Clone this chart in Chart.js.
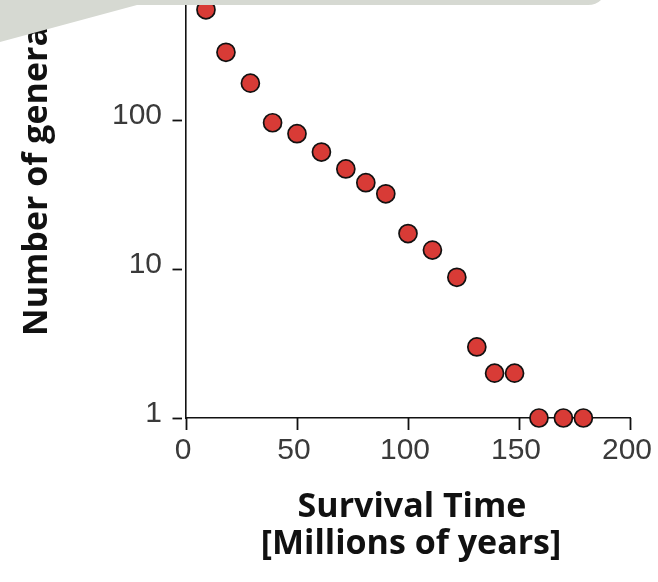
<!DOCTYPE html>
<html><head><meta charset="utf-8">
<script src="https://cdn.jsdelivr.net/npm/chart.js@4"></script>
<style>html,body{margin:0;padding:0;background:#fff;overflow:hidden}</style>
</head><body>
<canvas id="c" width="658" height="582" style="display:block;width:658px;height:582px"></canvas>
<script>
const survivalTime = [9, 18, 29, 39, 50, 61, 72, 81, 90, 100, 111, 122, 131, 139, 148, 159, 170, 179];
const numberOfGenera = [550, 285, 177, 96, 81, 61, 47, 38, 32, 17.3, 13.4, 8.8, 3, 2, 2, 1, 1, 1];
const xTickValues = [0, 50, 100, 150, 200];
const yTickValues = [1, 10, 100];
const xTitle = ['Survival Time', '[Millions of years]'];
const yTitle = 'Number of genera';

const points = survivalTime.map((x, i) => ({ x: x, y: numberOfGenera[i] }));
const tickFont = { family: '"Liberation Sans", Arial, sans-serif', size: 30 };

const decorPlugin = {
  id: 'decor',
  afterDraw(chart) {
    const ctx = chart.ctx;
    const xs = chart.scales.x, ys = chart.scales.y;
    const ca = chart.chartArea;
    ctx.save();
    ctx.strokeStyle = '#111';
    ctx.lineWidth = 1.8;
    // y tick marks (outside, small gap from axis)
    yTickValues.forEach(v => {
      const y = Math.round(ys.getPixelForValue(v)) + 0.5;
      ctx.beginPath();
      ctx.moveTo(ca.left - 13.5, y);
      ctx.lineTo(ca.left - 4, y);
      ctx.stroke();
    });
    // x tick marks (outside, downward)
    xTickValues.forEach(v => {
      const x = Math.round(xs.getPixelForValue(v)) + 0.5;
      ctx.beginPath();
      ctx.moveTo(x, ca.bottom);
      ctx.lineTo(x, ca.bottom + 12);
      ctx.stroke();
    });
    // axis titles
    ctx.fillStyle = '#111';
    ctx.font = 'bold 34px "Open Sans"';
    ctx.textAlign = 'center';
    ctx.textBaseline = 'alphabetic';
    ctx.fillText(xTitle[0], 412, 517);
    ctx.fillText(xTitle[1], 411, 554);
    ctx.save();
    ctx.translate(47, 181);
    ctx.rotate(-Math.PI / 2);
    ctx.fillText(yTitle, 0, 0);
    ctx.restore();
    // slide decoration band on top
    ctx.fillStyle = '#d6d9d2';
    ctx.beginPath();
    ctx.moveTo(0, 0);
    ctx.lineTo(601, 0);
    ctx.quadraticCurveTo(596, 5, 588, 5);
    ctx.lineTo(137, 5);
    ctx.lineTo(0, 42);
    ctx.closePath();
    ctx.fill();
    ctx.restore();
  }
};

new Chart(document.getElementById('c'), {
  type: 'scatter',
  data: {
    datasets: [{
      data: points,
      backgroundColor: '#d83b36',
      borderColor: '#111',
      borderWidth: 1.7,
      pointRadius: 9,
      pointHoverRadius: 9,
      clip: false
    }]
  },
  options: {
    responsive: false,
    animation: false,
    devicePixelRatio: 1,
    layout: { autoPadding: false, padding: { left: 0, right: 28, top: 0, bottom: 0 } },
    plugins: { legend: { display: false }, tooltip: { enabled: false } },
    scales: {
      x: {
        type: 'linear',
        min: 0,
        max: 200,
        afterBuildTicks: s => { s.ticks = xTickValues.map(v => ({ value: v })); },
        afterFit: s => { s.height = 164; s.paddingLeft = 0; s.paddingRight = 0; },
        grid: { display: false, drawTicks: false },
        border: { display: true, color: '#111', width: 1.6 },
        ticks: { color: '#3a3a3a', font: tickFont, padding: 15, maxRotation: 0, labelOffset: -3 }
      },
      y: {
        type: 'logarithmic',
        min: 1,
        max: 640,
        afterBuildTicks: s => { s.ticks = yTickValues.map(v => ({ value: v })); },
        afterFit: s => { s.width = 186; s.paddingTop = 0; s.paddingBottom = 0; },
        grid: { display: false, drawTicks: false },
        border: { display: true, color: '#111', width: 1.6 },
        ticks: { color: '#3a3a3a', font: tickFont, padding: 24, labelOffset: -4, callback: v => String(v) }
      }
    }
  },
  plugins: [decorPlugin]
});
</script>
</body></html>
